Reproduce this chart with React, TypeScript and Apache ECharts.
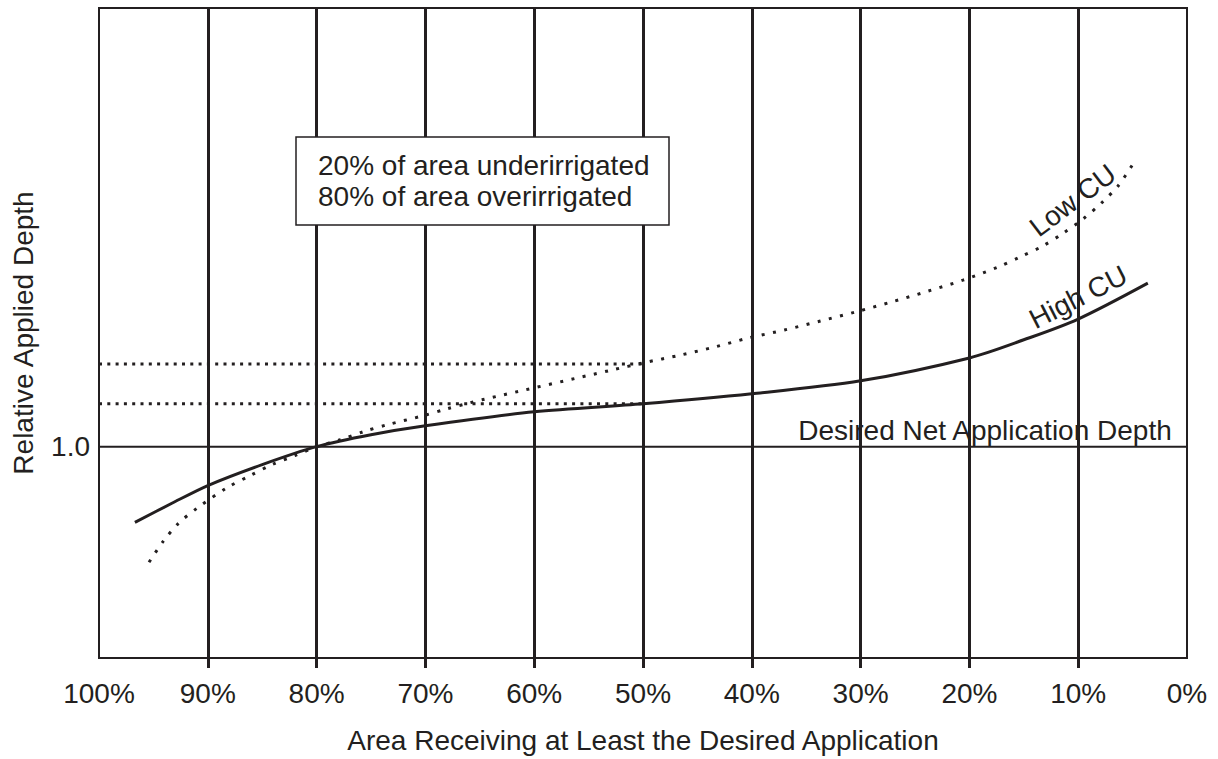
import React, { useEffect, useRef } from 'react';
import * as echarts from 'echarts';

const FONT = '"Liberation Sans", Arial, Helvetica, sans-serif';
const INK = '#231f20';

// Vertical grid positions (percent of area)
const gridPercents = [10, 20, 30, 40, 50, 60, 70, 80, 90];

// High CU (solid) curve
const highCuX = [96.7, 93.3, 90, 85, 80, 75, 70, 60, 50, 40, 30, 20, 15, 10, 3.6];
const highCuY = [0.81, 0.858, 0.9025, 0.955, 1.0, 1.03, 1.0525, 1.0875, 1.1075, 1.1325, 1.165, 1.2225, 1.268, 1.32, 1.41];

// Low CU (dotted) curve
const lowCuX = [95.4, 94.1, 92.7, 90.9, 88.2, 86.1, 84.1, 82.0, 80.0, 77.8, 75.7, 73.5, 70.2, 68.0, 65.9, 64.8, 52.8, 50, 46.5, 43.4, 40.3, 37.0, 33.7, 30.5, 27.2, 23.8, 20.6, 17.4, 15.4, 13.3, 11.4, 9.6, 7.8, 6.3, 5.0];
const lowCuY = [0.71, 0.7625, 0.8075, 0.8475, 0.8975, 0.9275, 0.955, 0.9775, 1.0, 1.0175, 1.0375, 1.055, 1.0775, 1.095, 1.11, 1.1175, 1.1925, 1.21, 1.23, 1.25, 1.2725, 1.2925, 1.315, 1.3375, 1.3625, 1.39, 1.4175, 1.45, 1.475, 1.5025, 1.535, 1.57, 1.6125, 1.655, 1.7075];

// Dotted reference levels read at 50% of area
const referenceLevels = [1.2075, 1.1075];
const referenceStart = 100;
const referenceEnd = 50;

const desiredDepth = 1.0;
const yLabelValues = [1.0];

const boxText = '20% of area underirrigated\n80% of area overirrigated';

export default function App() {
  const ref = useRef<HTMLDivElement>(null);

  useEffect(() => {
    const chart = echarts.init(ref.current!, null, { renderer: 'svg' });
    const txt = { fontFamily: FONT, color: INK, fontSize: 28 };

    chart.setOption({
      animation: false,
      backgroundColor: '#ffffff',
      title: {
        text: boxText,
        left: 296,
        top: 137,
        padding: [13, 20, 13, 22],
        borderColor: INK,
        borderWidth: 1.5,
        backgroundColor: '#ffffff',
        textStyle: { ...txt, fontWeight: 'normal', lineHeight: 31 },
        z: 10,
      },
      grid: {
        left: 99,
        top: 8,
        width: 1088,
        height: 652,
        show: true,
        borderColor: INK,
        borderWidth: 2,
        backgroundColor: 'transparent',
      },
      xAxis: {
        type: 'value',
        min: 0,
        max: 100,
        interval: 10,
        inverse: true,
        axisLine: { show: false, onZero: false },
        axisTick: {
          show: true,
          customValues: gridPercents,
          length: 10,
          lineStyle: { color: INK, width: 3 },
        },
        splitLine: { show: false },
        axisLabel: { ...txt, formatter: (v: number) => `${v}%`, margin: 21 },
        name: 'Area Receiving at Least the Desired Application',
        nameLocation: 'middle',
        nameGap: 68,
        nameTextStyle: { ...txt },
      },
      yAxis: {
        type: 'value',
        min: 0.47,
        max: 2.1,
        axisLine: { show: false, onZero: false },
        axisTick: { show: false },
        splitLine: { show: false },
        axisLabel: {
          ...txt,
          customValues: yLabelValues,
          formatter: (v: number) => v.toFixed(1),
          margin: 9,
        },
        name: 'Relative Applied Depth',
        nameLocation: 'middle',
        nameGap: 62,
        nameTextStyle: { ...txt },
      },
      series: [
        {
          type: 'line',
          name: 'desired',
          data: [[100, desiredDepth], [0, desiredDepth]],
          symbol: 'none',
          lineStyle: { color: INK, width: 2 },
          z: 3,
          markLine: {
            silent: true,
            symbol: ['none', 'none'],
            label: { show: false },
            lineStyle: { color: INK, width: 3, type: 'solid' },
            data: gridPercents.map((v) => ({ xAxis: v })),
          },
        },
        ...referenceLevels.map((lvl) => ({
          type: 'line',
          data: [[referenceStart, lvl], [referenceEnd, lvl]],
          symbol: 'none',
          lineStyle: { color: INK, width: 3, type: [3, 5.3] },
          z: 4,
        })),
        {
          type: 'line',
          name: 'High CU',
          data: highCuX.map((x, i) => [x, highCuY[i]]),
          symbol: 'none',
          smooth: 0.3,
          lineStyle: { color: INK, width: 3 },
          z: 5,
        },
        {
          type: 'line',
          name: 'Low CU',
          data: lowCuX.map((x, i) => [x, lowCuY[i]]),
          symbol: 'none',
          smooth: 0.3,
          lineStyle: { color: INK, width: 3, type: [3, 8.5] },
          z: 5,
        },
        {
          type: 'scatter',
          symbolSize: 0,
          silent: true,
          z: 6,
          itemStyle: { opacity: 1 },
          label: { show: true, ...txt, opacity: 1, position: 'inside' },
          data: [
            { value: [10.5, 1.6175], label: { formatter: 'Low CU', rotate: 37 } },
            { value: [10, 1.375], label: { formatter: 'High CU', rotate: 27 } },
            {
              value: [1.4, desiredDepth],
              label: {
                formatter: 'Desired Net Application Depth',
                position: 'left',
                distance: 0,
                offset: [0, -16],
              },
            },
          ],
        },
      ],
    });

    return () => chart.dispose();
  }, []);

  return (
    <div
      ref={ref}
      style={{ position: 'fixed', left: 0, top: 0, width: 1218, height: 759, background: '#fff' }}
    />
  );
}
